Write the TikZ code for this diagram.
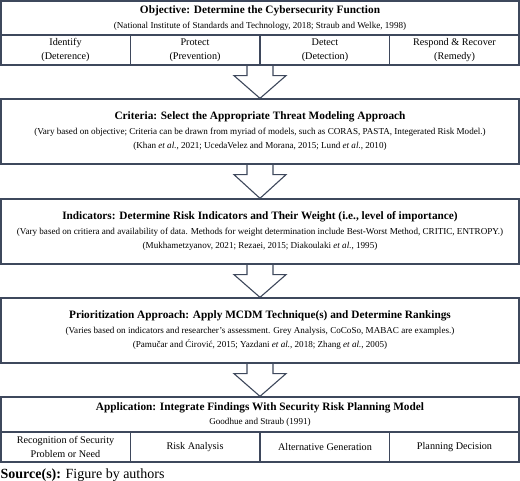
\documentclass[tikz,border=0pt]{standalone}
\usepackage{fontspec}
\setmainfont{Liberation Serif}
\usetikzlibrary{calc}
\definecolor{frame}{RGB}{62,72,92}
\newcommand\cw{129.5}
\newcommand\bw{518}
\newcommand\refs[1]{{\fontsize{9.1}{14.5}\selectfont #1}}
\newcommand\etal{\textit{et al.},}

\begin{document}
\begin{tikzpicture}[x=1pt,y=1pt,line width=1.3pt,
  box/.style={draw=frame,minimum width=\bw,inner sep=0,align=center,font=\fontsize{11.3}{14.5}\selectfont},
  cell/.style={draw=frame,minimum width=\cw,minimum height=30,inner sep=0,align=center,font=\fontsize{10.2}{14.5}\selectfont},
  blockarrow/.style={draw=frame,line width=1.1pt,line join=miter}]
\useasboundingbox (0,0) rectangle (520,-481);
\node[box,minimum height=64] (O) at (260,-33) {};
\node[box,minimum height=34] (Ot) at (260,-18) {\textbf{Objective: Determine the Cybersecurity Function}\\ \refs{(National Institute of Standards and Technology, 2018; Straub and Welke, 1998)}};
\node[cell] (O1) at (65.5,-50) {Identify\\(Deterence)};
\node[cell] (O2) at (195,-50) {Protect\\(Prevention)};
\node[cell] (O3) at (325,-50) {Detect\\(Detection)};
\node[cell] (O4) at (454.5,-50) {Respond \& Recover\\(Remedy)};
\node[box,minimum height=65] (C) at (260,-131.5) {\textbf{Criteria: Select the Appropriate Threat Modeling Approach}\\ \refs{(Vary based on objective; Criteria can be drawn from myriad of models, such as CORAS, PASTA, Integerated Risk Model.)}\\ \refs{(Khan \etal\ 2021; UcedaVelez and Morana, 2015; Lund \etal\ 2010)}};
\node[box,minimum height=65] (I) at (260,-231.5) {\textbf{Indicators: Determine Risk Indicators and Their Weight (i.e., level of importance)}\\ \refs{(Vary based on critiera and availability of data. Methods for weight determination include Best-Worst Method, CRITIC, ENTROPY.)}\\ \refs{(Mukhametzyanov, 2021; Rezaei, 2015; Diakoulaki \etal\ 1995)}};
\node[box,minimum height=65] (P) at (260,-330.5) {\textbf{Prioritization Approach: Apply MCDM Technique(s) and Determine Rankings}\\ \refs{(Varies based on indicators and researcher’s assessment. Grey Analysis, CoCoSo, MABAC are examples.)}\\ \refs{(Pamučar and Ćirović, 2015; Yazdani \etal\ 2018; Zhang \etal\ 2005)}};
\node[box,minimum height=65] (A) at (260,-429.5) {};
\node[box,minimum height=35] (At) at (260,-414.5) {\textbf{Application: Integrate Findings With Security Risk Planning Model}\\ \refs{Goodhue and Straub (1991)}};
\node[cell] (A1) at (65.5,-447) {Recognition of Security\\Problem or Need};
\node[cell] (A2) at (195,-447) {Risk Analysis};
\node[cell] (A3) at (325,-447) {Alternative Generation};
\node[cell] (A4) at (454.5,-447) {Planning Decision};
\foreach \u/\v in {O/C,C/I,I/P,P/A}
  \draw[blockarrow] ($(\u.south)+(-13,0)$) -- ++(0,-10) -- ++(-13,0) -- (\v.north)
    -- ($(\u.south)+(26,-10)$) -- ++(-13,0) -- ++(0,10);
\node[anchor=base west,inner sep=0,font=\fontsize{14}{16}\selectfont] (S) at (0,-478) {\textbf{Source(s):} Figure by authors};
\end{tikzpicture}
\end{document}
